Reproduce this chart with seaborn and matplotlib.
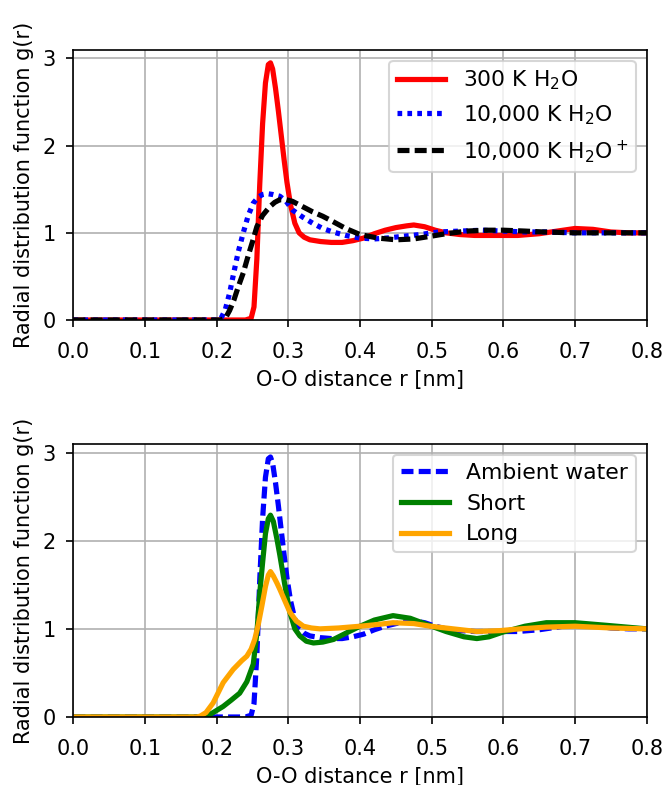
import matplotlib
matplotlib.use("Agg")
import matplotlib.pyplot as plt
import seaborn as sns

# O-O radial distribution functions, g(r) vs r in nm
r_300 = [0.000, 0.240, 0.248, 0.252, 0.256, 0.260, 0.264, 0.268, 0.272, 0.275,
         0.278, 0.282, 0.286, 0.290, 0.294, 0.298, 0.303, 0.309, 0.315, 0.322,
         0.330, 0.345, 0.360, 0.375, 0.390, 0.405, 0.420, 0.435, 0.450, 0.465,
         0.475, 0.490, 0.505, 0.520, 0.540, 0.560, 0.590, 0.620, 0.650, 0.675,
         0.700, 0.725, 0.750, 0.775, 0.800]
g_300 = [0.00, 0.00, 0.02, 0.15, 0.70, 1.55, 2.25, 2.72, 2.93, 2.95,
         2.88, 2.66, 2.40, 2.12, 1.84, 1.58, 1.32, 1.11, 1.00, 0.95,
         0.92, 0.90, 0.89, 0.89, 0.91, 0.94, 0.99, 1.03, 1.06, 1.08,
         1.09, 1.07, 1.03, 1.00, 0.98, 0.97, 0.97, 0.97, 0.99, 1.02,
         1.05, 1.04, 1.01, 1.00, 1.00]

r_hot = [0.000, 0.200, 0.206, 0.212, 0.218, 0.224, 0.230, 0.237, 0.244, 0.251,
         0.258, 0.264, 0.270, 0.278, 0.288, 0.297, 0.306, 0.320, 0.334, 0.348,
         0.362, 0.380, 0.400, 0.420, 0.437, 0.460, 0.483, 0.510, 0.540, 0.570,
         0.600, 0.630, 0.660, 0.700, 0.750, 0.800]
g_hot = [0.00, 0.00, 0.02, 0.12, 0.31, 0.55, 0.78, 1.00, 1.20, 1.34,
         1.41, 1.44, 1.45, 1.44, 1.42, 1.36, 1.26, 1.18, 1.11, 1.05,
         1.01, 0.97, 0.94, 0.93, 0.94, 0.96, 0.98, 1.01, 1.02, 1.03,
         1.02, 1.01, 1.01, 1.00, 1.00, 1.00]

r_ion = [0.000, 0.205, 0.212, 0.218, 0.224, 0.230, 0.237, 0.244, 0.250, 0.256,
         0.264, 0.274, 0.281, 0.288, 0.297, 0.306, 0.320, 0.334, 0.348, 0.362,
         0.380, 0.400, 0.425, 0.450, 0.475, 0.498, 0.520, 0.549, 0.575, 0.600,
         0.630, 0.655, 0.700, 0.750, 0.800]
g_ion = [0.00, 0.00, 0.02, 0.11, 0.23, 0.38, 0.54, 0.74, 0.90, 1.07,
         1.20, 1.30, 1.35, 1.38, 1.38, 1.36, 1.30, 1.24, 1.19, 1.13,
         1.05, 0.98, 0.94, 0.92, 0.93, 0.96, 0.99, 1.02, 1.03, 1.03,
         1.02, 1.01, 1.00, 1.00, 1.00]

r_short = [0.000, 0.180, 0.186, 0.195, 0.209, 0.220, 0.232, 0.242, 0.251, 0.256,
           0.260, 0.264, 0.268, 0.272, 0.275, 0.279, 0.284, 0.288, 0.295, 0.302,
           0.309, 0.316, 0.325, 0.335, 0.348, 0.363, 0.380, 0.400, 0.420, 0.446,
           0.470, 0.493, 0.520, 0.545, 0.563, 0.580, 0.598, 0.630, 0.660, 0.700,
           0.744, 0.800]
g_short = [0.00, 0.00, 0.01, 0.05, 0.12, 0.19, 0.27, 0.40, 0.60, 0.95,
           1.40, 1.75, 2.08, 2.25, 2.29, 2.22, 2.02, 1.84, 1.50, 1.19,
           1.00, 0.92, 0.86, 0.84, 0.85, 0.88, 0.95, 1.03, 1.10, 1.15,
           1.12, 1.05, 0.97, 0.91, 0.89, 0.91, 0.96, 1.03, 1.07, 1.07,
           1.04, 1.00]

r_long = [0.000, 0.172, 0.177, 0.185, 0.195, 0.209, 0.223, 0.235, 0.242, 0.248,
          0.253, 0.258, 0.263, 0.268, 0.272, 0.275, 0.279, 0.284, 0.288, 0.295,
          0.302, 0.311, 0.321, 0.332, 0.344, 0.370, 0.400, 0.425, 0.446, 0.475,
          0.498, 0.530, 0.563, 0.595, 0.623, 0.660, 0.700, 0.750, 0.800]
g_long = [0.00, 0.00, 0.01, 0.05, 0.16, 0.39, 0.54, 0.64, 0.69, 0.77,
          0.88, 1.05, 1.26, 1.48, 1.61, 1.65, 1.60, 1.52, 1.45, 1.32,
          1.19, 1.09, 1.03, 1.01, 1.00, 1.01, 1.03, 1.05, 1.07, 1.06,
          1.03, 1.00, 0.97, 0.98, 1.00, 1.02, 1.03, 1.01, 1.00]

x_ticks = [0.0, 0.1, 0.2, 0.3, 0.4, 0.5, 0.6, 0.7, 0.8]
y_ticks = [0, 1, 2, 3]

plt.rcParams.update({
    "font.family": ["DejaVu Sans"],
    "font.size": 10,
    "axes.edgecolor": "black",
    "axes.linewidth": 0.8,
    "grid.color": "#b0b0b0",
    "grid.linewidth": 0.8,
    "xtick.direction": "out",
    "ytick.direction": "out",
})

W, H, DPI = 668, 785, 150
fig = plt.figure(figsize=(W / DPI, H / DPI), dpi=DPI)

left, right = 73.4, 646.7
ax1 = fig.add_axes([left / W, 1 - 320 / H, (right - left) / W, (320 - 50) / H])
ax2 = fig.add_axes([left / W, 1 - 717 / H, (right - left) / W, (717 - 444) / H])

LW = 2.5
dotted = (0, (0.9, 1.0))
dashed = (0, (2.3, 1.0))

sns.lineplot(x=r_300, y=g_300, ax=ax1, color="red", linewidth=LW,
             label="300 K H$_2$O")
sns.lineplot(x=r_hot, y=g_hot, ax=ax1, color="blue", linewidth=LW,
             linestyle=dotted, label="10,000 K H$_2$O")
sns.lineplot(x=r_ion, y=g_ion, ax=ax1, color="black", linewidth=LW,
             linestyle=dashed, label="10,000 K H$_2$O$^+$")

sns.lineplot(x=r_300, y=g_300, ax=ax2, color="blue", linewidth=LW,
             linestyle=dashed, label="Ambient water")
sns.lineplot(x=r_short, y=g_short, ax=ax2, color="green", linewidth=LW,
             label="Short")
sns.lineplot(x=r_long, y=g_long, ax=ax2, color="orange", linewidth=LW,
             label="Long")

for ax in (ax1, ax2):
    ax.set_xlim(0, 0.8)
    ax.set_ylim(bottom=0)
    ax.set_xticks(x_ticks)
    ax.set_xticklabels([f"{v:.1f}" for v in x_ticks])
    ax.set_yticks(y_ticks)
    ax.grid(True)
    ax.set_axisbelow(True)
    ax.tick_params(labelsize=10, length=3.5, width=0.8, colors="black")
    ax.tick_params(axis="x", pad=7.0)
    ax.tick_params(axis="y", pad=5.0)
    ax.set_xlabel("O-O distance r [nm]", fontsize=10, labelpad=4.0)
    ax.set_ylabel("Radial distribution function g(r)", fontsize=10, labelpad=4.0)
    for s in ax.spines.values():
        s.set_visible(True)
        s.set_color("black")
    ax.legend(loc="upper right", fontsize=10.5, framealpha=0.8,
              handlelength=2.2, borderpad=0.35)

fig.savefig("out.png", dpi=DPI)
